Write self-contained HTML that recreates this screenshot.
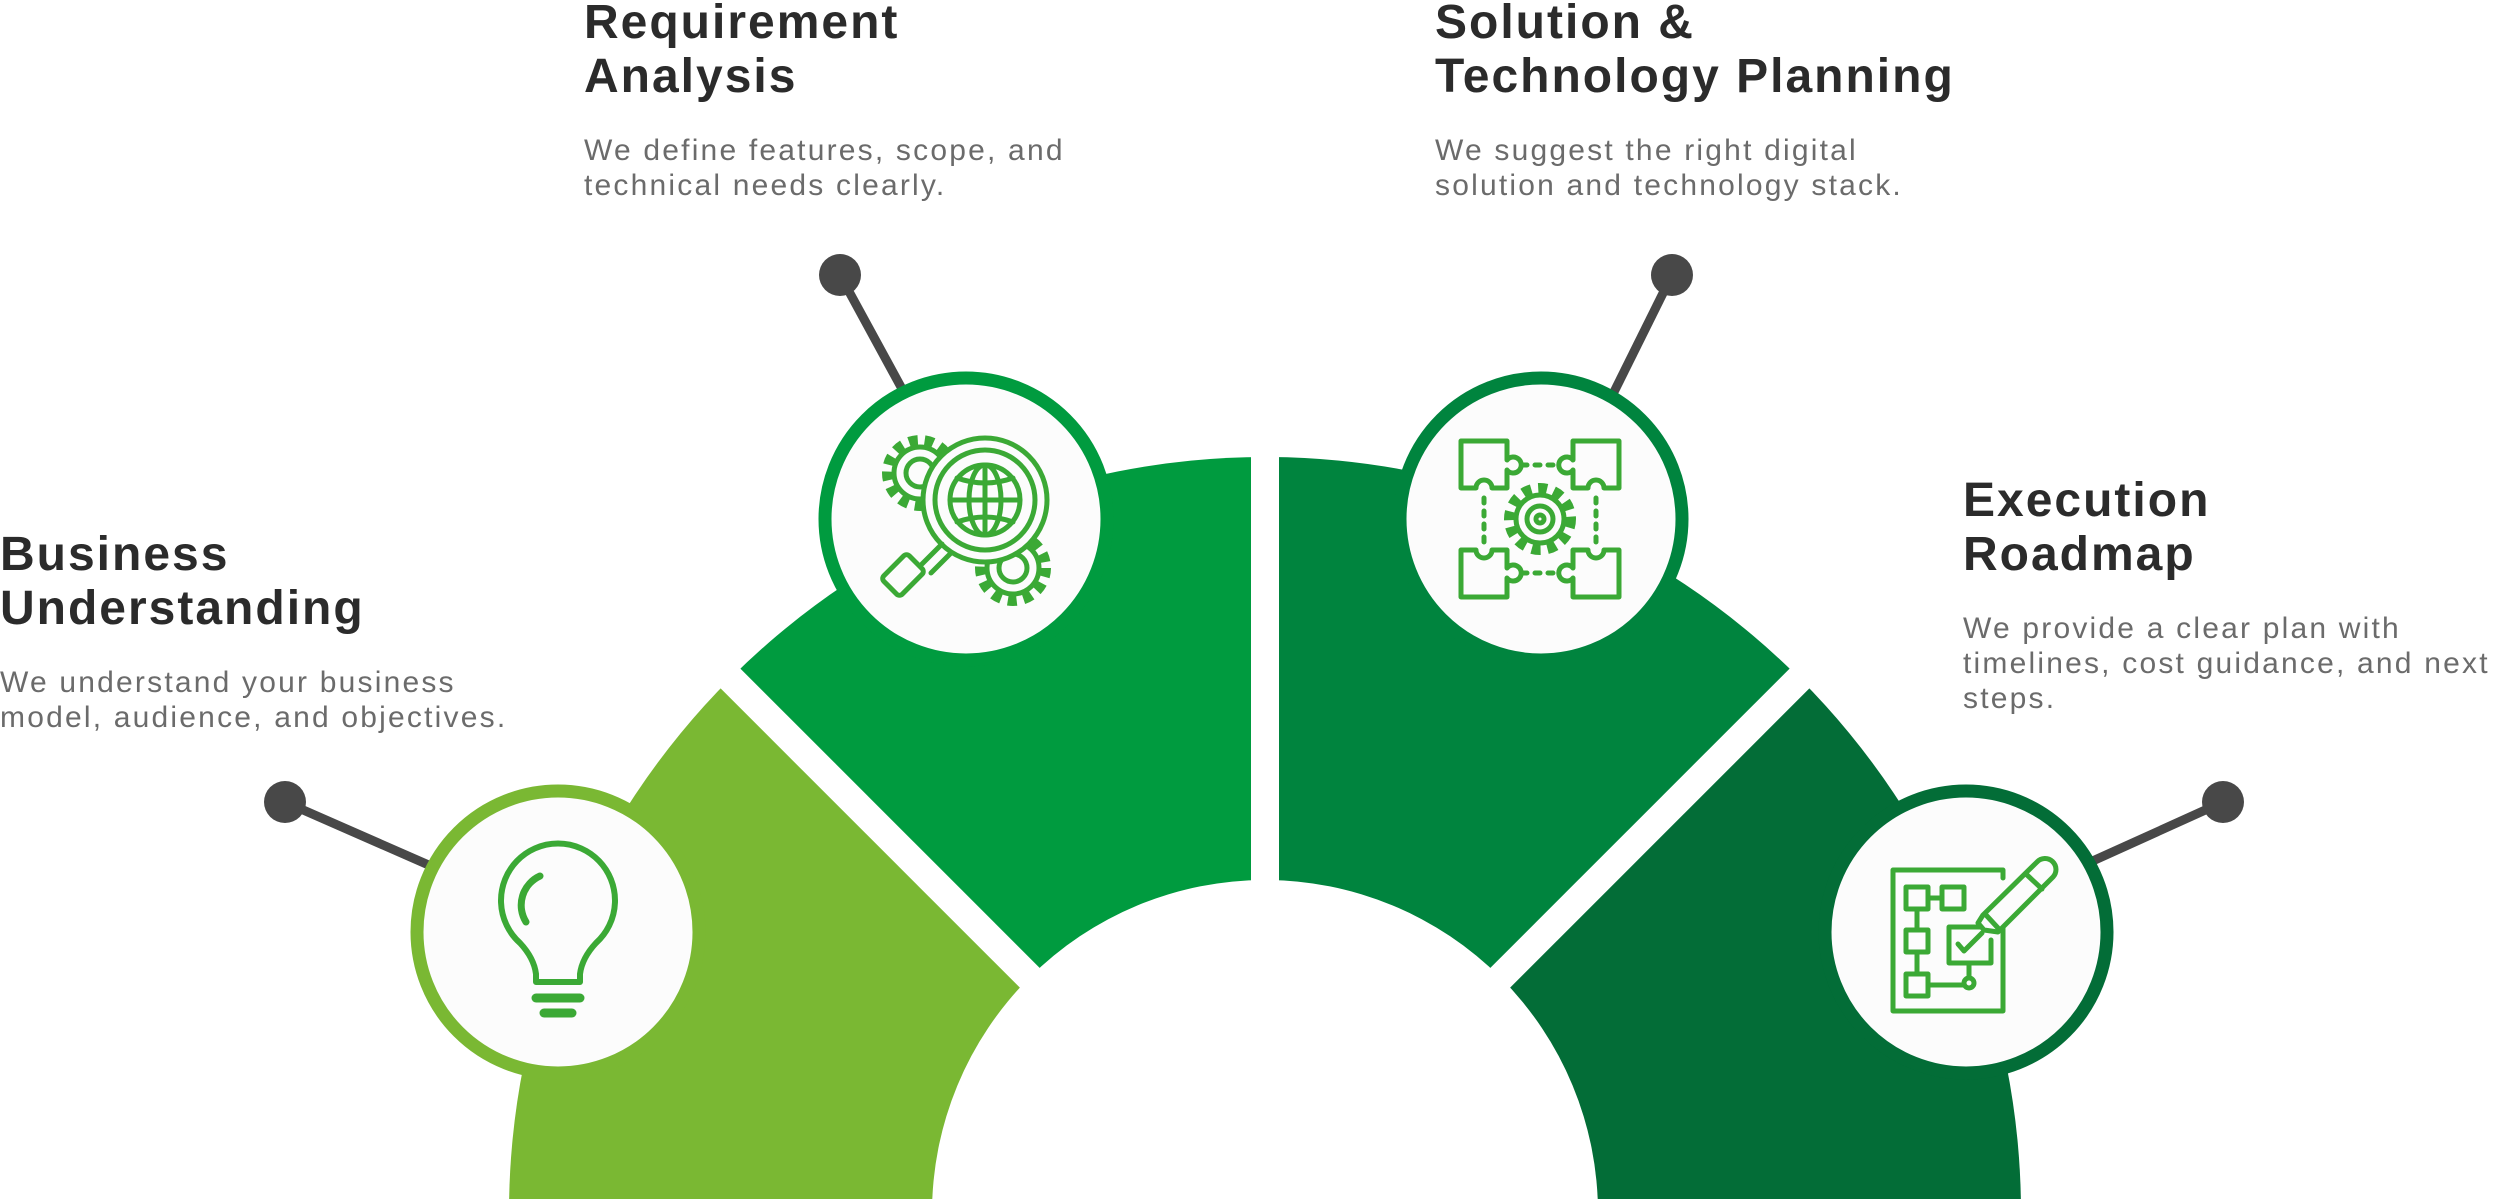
<!DOCTYPE html>
<html><head><meta charset="utf-8"><style>
html,body{margin:0;padding:0;background:#fff;width:2500px;height:1199px;overflow:hidden;}
body{position:relative;}
svg{position:absolute;left:0;top:0;display:block;}
.h{font-family:"Liberation Sans",sans-serif;font-weight:bold;font-size:48px;fill:#2b2b2b;letter-spacing:2px;}
.d{font-family:"Liberation Sans",sans-serif;font-size:30px;fill:#6b6b6b;letter-spacing:2.2px;}
</style></head><body>
<svg width="2500" height="1199" viewBox="0 0 2500 1199" xmlns="http://www.w3.org/2000/svg">
<defs>
<clipPath id="ring"><rect x="0" y="0" width="2500" height="1199"/></clipPath>
</defs>
<g clip-path="url(#ring)">
<path d="M1265,1213 L509,1213 A756,756 0 0 1 730.4,678.4 Z" fill="#7ab833"/>
<path d="M1265,1213 L730.4,678.4 A756,756 0 0 1 1265,457 Z" fill="#009b3f"/>
<path d="M1265,1213 L1265,457 A756,756 0 0 1 1799.6,678.4 Z" fill="#00843e"/>
<path d="M1265,1213 L1799.6,678.4 A756,756 0 0 1 2021,1213 Z" fill="#036d37"/>
<line x1="1265" y1="1213" x2="1265" y2="400" stroke="#fff" stroke-width="28"/>
<line x1="1265" y1="1213" x2="680" y2="628" stroke="#fff" stroke-width="28"/>
<line x1="1265" y1="1213" x2="1850" y2="628" stroke="#fff" stroke-width="28"/>
<circle cx="1265" cy="1213" r="333" fill="#fff"/>
</g>

<g stroke="#484848" stroke-width="9" fill="#484848">
<line x1="285" y1="802" x2="440" y2="870"/><circle cx="285" cy="802" r="21" stroke="none"/>
<line x1="840" y1="275" x2="907" y2="398"/><circle cx="840" cy="275" r="21" stroke="none"/>
<line x1="1672" y1="275" x2="1611" y2="398"/><circle cx="1672" cy="275" r="21" stroke="none"/>
<line x1="2223" y1="802" x2="2086" y2="864"/><circle cx="2223" cy="802" r="21" stroke="none"/>
</g>

<circle cx="558" cy="932" r="141" fill="#fcfcfc" stroke="#7ab833" stroke-width="13"/>
<circle cx="966" cy="519" r="141" fill="#fcfcfc" stroke="#009b3f" stroke-width="13"/>
<circle cx="1541" cy="519" r="141" fill="#fcfcfc" stroke="#00843e" stroke-width="13"/>
<circle cx="1966" cy="932" r="141" fill="#fcfcfc" stroke="#036d37" stroke-width="13"/>

<g fill="none" stroke="#3ba935" stroke-width="5" stroke-linecap="round" stroke-linejoin="round">
<path d="M536,982 L536,974 Q534,958 520,943 A57,57 0 1 1 596,943 Q582,958 580,974 L580,982 Z" stroke-width="6"/>
<path d="M540,876 A32,32 0 0 0 526,922" stroke-width="7"/>
<line x1="536" y1="998" x2="580" y2="998" stroke-width="9"/>
<line x1="544" y1="1013" x2="572" y2="1013" stroke-width="9"/>

<circle cx="920" cy="473" r="33" stroke-dasharray="9 7" stroke-width="10" stroke-linecap="butt"/>
<circle cx="920" cy="473" r="26" fill="#fcfcfc"/>
<circle cx="920" cy="473" r="14"/>
<circle cx="1013" cy="568" r="33" stroke-dasharray="9 7" stroke-width="10" stroke-linecap="butt"/>
<circle cx="1013" cy="568" r="26" fill="#fcfcfc"/>
<circle cx="1013" cy="568" r="14"/>
<circle cx="985" cy="500" r="62" fill="#fcfcfc"/>
<circle cx="985" cy="500" r="50"/>
<circle cx="985" cy="500" r="35"/>
<ellipse cx="985" cy="500" rx="16" ry="35"/>
<line x1="985" y1="465" x2="985" y2="535"/>
<line x1="950" y1="500" x2="1020" y2="500"/>
<path d="M957,478 Q985,488 1013,478 M957,522 Q985,512 1013,522"/>
<path d="M942,544 L922,564 M951,553 L931,573"/>
<rect x="885" y="562" width="36" height="26" rx="4" transform="rotate(-45 903 575)"/>

<path d="M1461,441 L1507,441 L1507,460 A8,8 0 1 1 1507,470 L1507,488 L1492,488 A8,8 0 1 0 1476,488 L1461,488 Z"/>
<path d="M1619,441 L1573,441 L1573,460 A8,8 0 1 0 1573,470 L1573,488 L1588,488 A8,8 0 1 1 1604,488 L1619,488 Z"/>
<path d="M1461,597 L1507,597 L1507,578 A8,8 0 1 0 1507,568 L1507,550 L1492,550 A8,8 0 1 1 1476,550 L1461,550 Z"/>
<path d="M1619,597 L1573,597 L1573,578 A8,8 0 1 1 1573,568 L1573,550 L1588,550 A8,8 0 1 0 1604,550 L1619,550 Z"/>
<g stroke-dasharray="5 8">
<line x1="1522" y1="465" x2="1560" y2="465"/>
<line x1="1522" y1="573" x2="1560" y2="573"/>
<line x1="1484" y1="498" x2="1484" y2="542"/>
<line x1="1596" y1="498" x2="1596" y2="542"/>
</g>
<circle cx="1540" cy="519" r="31" stroke-dasharray="9 7" stroke-width="10" stroke-linecap="butt"/>
<circle cx="1540" cy="519" r="24" fill="#fcfcfc"/>
<circle cx="1540" cy="519" r="13"/>
<circle cx="1540" cy="519" r="4"/>

<path d="M2003,878 L2003,870 L1893,870 L1893,1011 L2003,1011 L2003,927"/>
<rect x="1906" y="887" width="22" height="22"/>
<rect x="1942" y="887" width="22" height="22"/>
<line x1="1928" y1="898" x2="1942" y2="898"/>
<rect x="1906" y="930" width="22" height="22"/>
<rect x="1906" y="974" width="22" height="22"/>
<line x1="1917" y1="909" x2="1917" y2="930"/>
<line x1="1917" y1="952" x2="1917" y2="974"/>
<line x1="1928" y1="985" x2="1964" y2="985"/>
<circle cx="1969" cy="983" r="5"/>
<line x1="1969" y1="963" x2="1969" y2="978"/>
<path d="M1987,927 L1949,927 L1949,963 L1991,963 L1991,940"/>
<path d="M1958,944 L1964,951 L1982,933"/>
<path d="M1978,923 L1983,915 L2037,862 A8,8 0 0 1 2053,877 L1998,932 L1984,930 Z" fill="#fcfcfc"/>
<line x1="2026" y1="874" x2="2042" y2="889"/>
<line x1="1986" y1="915" x2="1998" y2="928"/>
</g>

<text class="h" x="584" y="38">Requirement</text>
<text class="h" x="584" y="92">Analysis</text>
<text class="d" x="584" y="160">We define features, scope, and</text>
<text class="d" x="584" y="195">technical needs clearly.</text>

<text class="h" x="1435" y="38">Solution &amp;</text>
<text class="h" x="1435" y="92">Technology Planning</text>
<text class="d" x="1435" y="160">We suggest the right digital</text>
<text class="d" x="1435" y="195">solution and technology stack.</text>

<text class="h" x="0" y="570">Business</text>
<text class="h" x="0" y="624">Understanding</text>
<text class="d" x="0" y="692">We understand your business</text>
<text class="d" x="0" y="727">model, audience, and objectives.</text>

<text class="h" x="1963" y="516">Execution</text>
<text class="h" x="1963" y="570">Roadmap</text>
<text class="d" x="1963" y="638">We provide a clear plan with</text>
<text class="d" x="1963" y="673">timelines, cost guidance, and next</text>
<text class="d" x="1963" y="708">steps.</text>
</svg>
</body></html>
